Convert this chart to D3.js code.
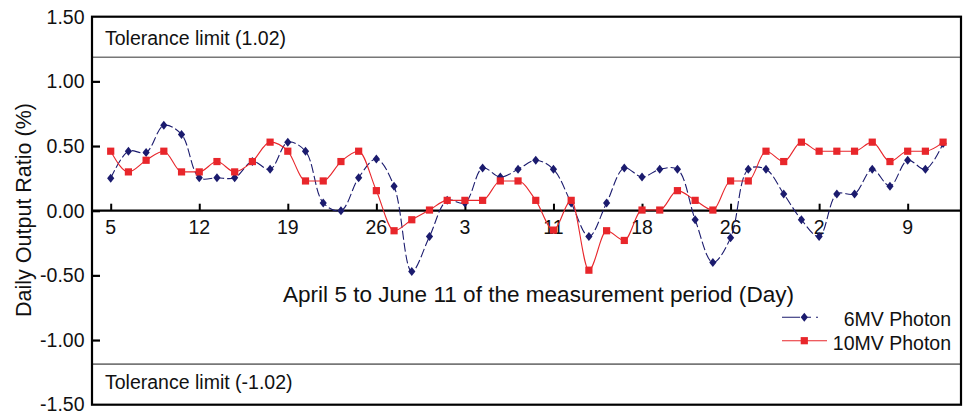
<!DOCTYPE html>
<html>
<head>
<meta charset="utf-8">
<script src="https://cdn.jsdelivr.net/npm/d3@7/dist/d3.min.js"></script>
<style>
html,body{margin:0;padding:0;background:#fff;}
text{font-family:"Liberation Sans",Arial,sans-serif;fill:#111;}
</style>
</head>
<body>
<svg id="chart" width="970" height="414"></svg>
<script>
// ---- data ----
const xTickLabels = ["5","12","19","26","3","11","18","26","2","9"];
const xTickIndex  = [0,5,10,15,20,25,30,35,40,45];
const yTicks = [-1.5,-1.0,-0.5,0.0,0.5,1.0,1.5];
const mv6 = [0.25,0.46,0.45,0.66,0.59,0.255,0.255,0.255,0.38,0.32,
             0.53,0.46,0.06,0.00,0.255,0.40,0.19,-0.47,-0.20,0.08,
             0.06,0.33,0.26,0.32,0.39,0.32,0.06,-0.20,0.06,0.33,
             0.26,0.32,0.32,-0.07,-0.40,-0.21,0.32,0.32,0.13,-0.07,
             -0.20,0.13,0.13,0.32,0.19,0.39,0.32,0.52];
const mv10 = [0.46,0.30,0.39,0.46,0.30,0.30,0.38,0.30,0.38,0.53,
              0.46,0.23,0.23,0.38,0.46,0.155,-0.155,-0.07,0.005,0.08,
              0.08,0.08,0.23,0.23,0.08,-0.15,0.08,-0.46,-0.155,-0.23,
              0.005,0.005,0.155,0.08,0.005,0.23,0.23,0.46,0.38,0.53,
              0.46,0.46,0.46,0.53,0.38,0.46,0.46,0.53];
const toleranceLines = [1.186,-1.186];
const toleranceLabels = ["Tolerance limit (1.02)","Tolerance limit (-1.02)"];
const seriesNames = ["6MV Photon","10MV Photon"];

// ---- layout ----
const svg = d3.select("#chart");
const L = 92, R = 961, T = 16.7, B = 404.7;
const x = d3.scaleLinear().domain([0, 47]).range([110.7, 943.1]);
const y = d3.scaleLinear().domain([-1.5, 1.5]).range([B, T]);
const blue = "#1b1b6e", red = "#e8262b";
const FS = 19.5;

// tolerance lines
toleranceLines.forEach((v,i)=>{
  svg.append("line").attr("x1",L).attr("x2",R).attr("y1",y(v)).attr("y2",y(v))
    .attr("stroke","#777").attr("stroke-width",1.6);
});
svg.append("text").attr("x",105).attr("y",45).attr("font-size",FS).text(toleranceLabels[0]);
svg.append("text").attr("x",105).attr("y",389).attr("font-size",FS).text(toleranceLabels[1]);

// y axis ticks & labels
const yAxis = d3.axisRight(y).tickValues(yTicks.slice(1,-1)).tickSize(8).tickFormat("");
svg.append("g").attr("transform",`translate(${L},0)`).call(yAxis)
  .call(g=>g.select(".domain").remove())
  .call(g=>g.selectAll("line").attr("stroke","#000").attr("stroke-width",2.2));
svg.append("g").selectAll("text").data(yTicks).join("text")
  .attr("x",84.5).attr("y",d=>Math.min(y(d)+7, 410.5)).attr("text-anchor","end")
  .attr("font-size",FS).text(d=>d.toFixed(2));

// zero axis with upward ticks
const xAxis = d3.axisTop(x).tickValues(xTickIndex).tickSize(7).tickFormat("");
svg.append("g").attr("transform",`translate(0,${y(0)})`).call(xAxis)
  .call(g=>g.select(".domain").remove())
  .call(g=>g.selectAll("line").attr("stroke","#000").attr("stroke-width",2));
svg.append("line").attr("x1",L).attr("x2",R).attr("y1",y(0)).attr("y2",y(0))
  .attr("stroke","#000").attr("stroke-width",2.2);
svg.append("g").selectAll("text").data(xTickIndex).join("text")
  .attr("x",d=>x(d)).attr("y",y(0)+23).attr("text-anchor","middle")
  .attr("font-size",FS).text((d,i)=>xTickLabels[i]);

// frame
svg.append("rect").attr("x",L).attr("y",T).attr("width",R-L).attr("height",B-T)
  .attr("fill","none").attr("stroke","#000").attr("stroke-width",2.2);

// series
const line6 = d3.line().x((d,i)=>x(i)).y(d=>y(d)).curve(d3.curveCatmullRom.alpha(0.5));
const line10 = d3.line().x((d,i)=>x(i)).y(d=>y(d)).curve(d3.curveMonotoneX);
svg.append("path").datum(mv6).attr("d",line6).attr("fill","none")
  .attr("stroke",blue).attr("stroke-width",1.1).attr("stroke-dasharray","9,3");
svg.append("g").selectAll("path").data(mv6).join("path")
  .attr("transform",(d,i)=>`translate(${x(i)},${y(d)})`)
  .attr("d","M0,-4.5L3.6,0L0,4.5L-3.6,0Z").attr("fill",blue);
svg.append("path").datum(mv10).attr("d",line10).attr("fill","none")
  .attr("stroke",red).attr("stroke-width",1.1);
svg.append("g").selectAll("rect").data(mv10).join("rect")
  .attr("x",(d,i)=>x(i)-3.6).attr("y",d=>y(d)-3.6).attr("width",7.2).attr("height",7.2)
  .attr("fill",red);

// axis titles
svg.append("text").attr("x",538.5).attr("y",302).attr("text-anchor","middle")
  .attr("font-size",21.5).attr("textLength",511).attr("lengthAdjust","spacingAndGlyphs")
  .text("April 5 to June 11 of the measurement period (Day)");
svg.append("text").attr("transform","translate(31,210) rotate(-90)")
  .attr("text-anchor","middle").attr("font-size",21.5).text("Daily Output Ratio (%)");

// legend
const lg = svg.append("g");
lg.append("line").attr("x1",782).attr("x2",827).attr("y1",317.3).attr("y2",317.3)
  .attr("stroke",blue).attr("stroke-width",1.1).attr("stroke-dasharray","18,5,6,5,2,20");
lg.append("path").attr("transform","translate(804.3,317.3)")
  .attr("d","M0,-4.5L3.6,0L0,4.5L-3.6,0Z").attr("fill",blue);
lg.append("line").attr("x1",782).attr("x2",827).attr("y1",340.7).attr("y2",340.7)
  .attr("stroke",red).attr("stroke-width",1.1);
lg.append("rect").attr("x",804.3-3.6).attr("y",340.7-3.6).attr("width",7.2).attr("height",7.2).attr("fill",red);
lg.append("text").attr("x",951).attr("y",326).attr("text-anchor","end").attr("font-size",FS).text(seriesNames[0]);
lg.append("text").attr("x",951).attr("y",350).attr("text-anchor","end").attr("font-size",FS).text(seriesNames[1]);
</script>
</body>
</html>
